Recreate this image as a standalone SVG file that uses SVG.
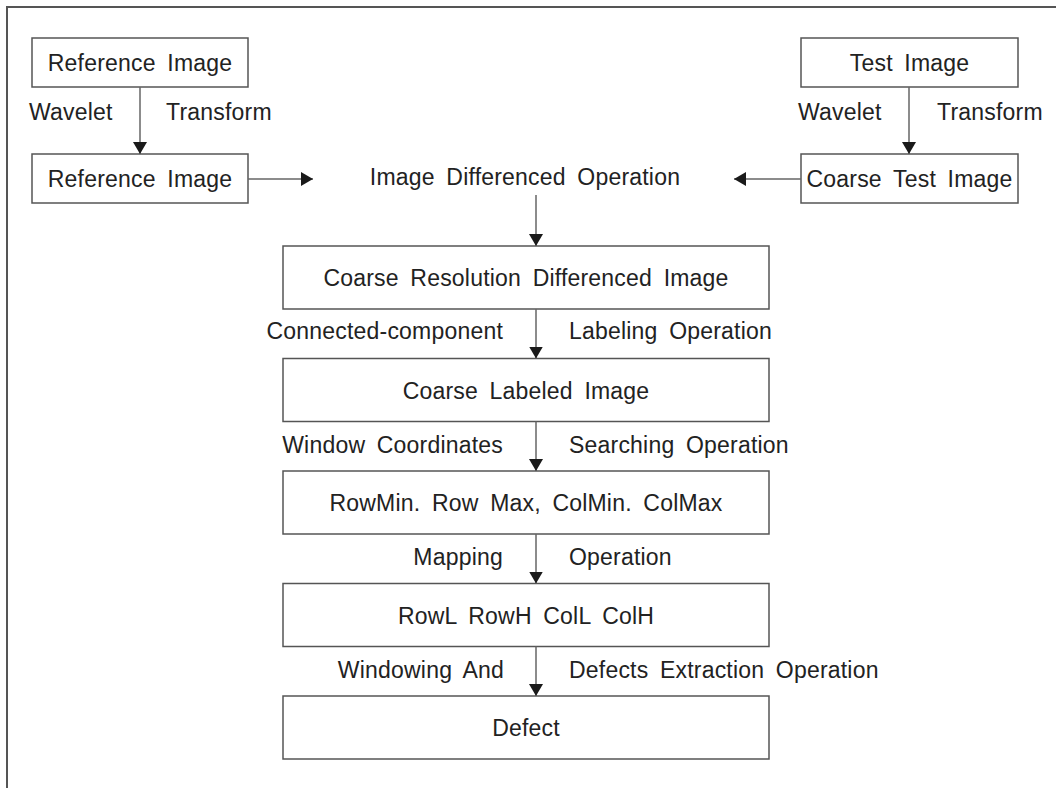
<svg xmlns="http://www.w3.org/2000/svg" width="1056" height="788" viewBox="0 0 1056 788">
<defs>
<marker id="ah" viewBox="0 0 12 14" refX="12" refY="7" markerWidth="12" markerHeight="14" markerUnits="userSpaceOnUse" orient="auto">
<path d="M0,0 L12,7 L0,14 Z" fill="#1a1a1a"/>
</marker>
</defs>
<style>
.box{fill:#fff;stroke:#555;stroke-width:1.5}
.frame{fill:none;stroke:#555;stroke-width:2}
.edge{fill:none;stroke:#666;stroke-width:1.5;marker-end:url(#ah)}
text{font-family:"Liberation Sans",Arial,Helvetica,sans-serif;font-size:23px;fill:#222;letter-spacing:0.2px;word-spacing:5px}
.c{text-anchor:middle}
.e{text-anchor:end}
</style>
<rect width="1056" height="788" fill="#fff"/>
<path class="frame" d="M7,788 V7 H1056"/>
<g id="ref1"><rect class="box" x="32" y="38" width="216" height="49"/><text class="c" x="140" y="70.5">Reference Image</text></g>
<g id="ref2"><rect class="box" x="32" y="154" width="216" height="49"/><text class="c" x="140" y="186.5">Reference Image</text></g>
<g id="test1"><rect class="box" x="801" y="38" width="217" height="49"/><text class="c" x="909.5" y="70.5">Test Image</text></g>
<g id="test2"><rect class="box" x="801" y="154" width="217" height="49"/><text class="c" x="909.5" y="186.5">Coarse Test Image</text></g>
<g id="diffop"><text class="c" x="525" y="185">Image Differenced Operation</text></g>
<g id="crdi"><rect class="box" x="283" y="246" width="486" height="63"/><text class="c" x="526" y="286">Coarse Resolution Differenced Image</text></g>
<g id="cli"><rect class="box" x="283" y="358.5" width="486" height="63"/><text class="c" x="526" y="398.5">Coarse Labeled Image</text></g>
<g id="rowmin"><rect class="box" x="283" y="471" width="486" height="63"/><text class="c" x="526" y="511">RowMin. Row Max, ColMin. ColMax</text></g>
<g id="rowl"><rect class="box" x="283" y="583.5" width="486" height="63"/><text class="c" x="526" y="623.5">RowL RowH ColL ColH</text></g>
<g id="defect"><rect class="box" x="283" y="696" width="486" height="63"/><text class="c" x="526" y="736">Defect</text></g>
<g id="connectors">
<line class="edge" x1="140" y1="87" x2="140" y2="154"/>
<line class="edge" x1="909" y1="87" x2="909" y2="154"/>
<line class="edge" x1="248" y1="179" x2="313" y2="179"/>
<line class="edge" x1="801" y1="179" x2="734" y2="179"/>
<line class="edge" x1="536" y1="195" x2="536" y2="246"/>
<line class="edge" x1="536" y1="309" x2="536" y2="358.5"/>
<line class="edge" x1="536" y1="421.5" x2="536" y2="471"/>
<line class="edge" x1="536" y1="534" x2="536" y2="583.5"/>
<line class="edge" x1="536" y1="646.5" x2="536" y2="696"/>
</g>
<g id="labels">
<text x="29" y="120">Wavelet</text>
<text x="166" y="120">Transform</text>
<text x="798" y="120">Wavelet</text>
<text x="937" y="120">Transform</text>
<text class="e" x="503" y="339">Connected-component</text>
<text x="569" y="339">Labeling Operation</text>
<text class="e" x="503" y="453">Window Coordinates</text>
<text x="569" y="453">Searching Operation</text>
<text class="e" x="503" y="565">Mapping</text>
<text x="569" y="565">Operation</text>
<text class="e" x="504" y="678">Windowing And</text>
<text x="569" y="678">Defects Extraction Operation</text>
</g>
</svg>
